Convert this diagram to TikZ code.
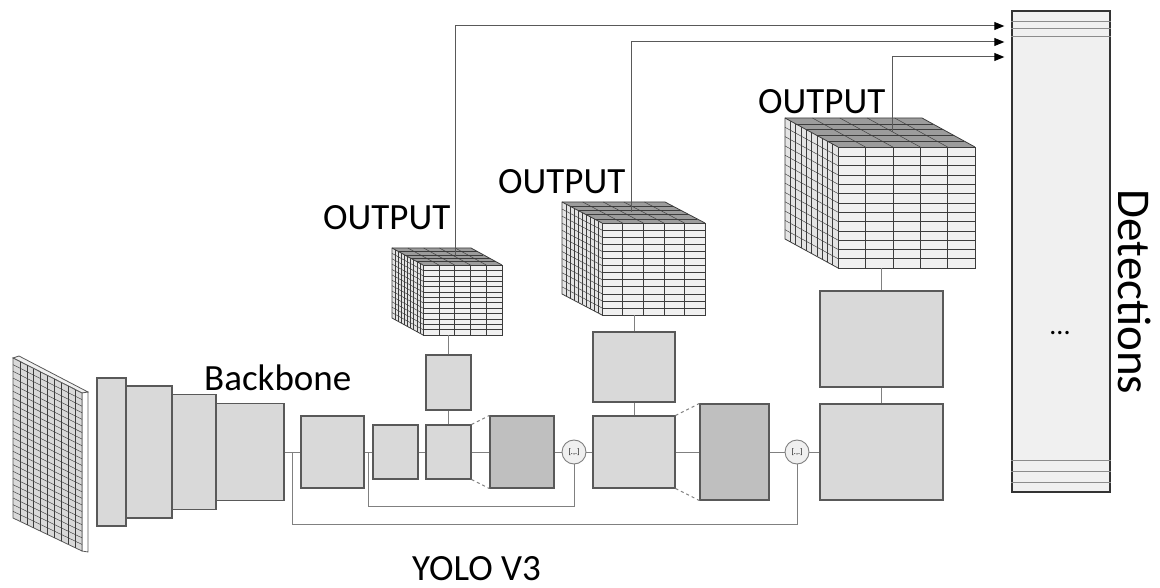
\documentclass[tikz,border=0pt]{standalone}
\usepackage{fontspec}
\setmainfont{Carlito}
\usetikzlibrary{positioning,arrows.meta}

\definecolor{blkfill}{HTML}{D9D9D9}
\definecolor{darkfill}{HTML}{BFBFBF}
\definecolor{edgegray}{HTML}{595959}
\definecolor{wiregray}{HTML}{808080}
\definecolor{paperfill}{HTML}{F0F0F0}
\definecolor{sidefill}{HTML}{E4E4E4}
\definecolor{topfill}{HTML}{9C9C9C}
\definecolor{gridgray}{HTML}{3C3C3C}

% output tensor: front top-left x, y, width, height, depth dx, dy
\newcommand{\featcube}[6]{%
  \fill[sidefill] (#1,#2) -- ++(-#5,-#6) -- ++(0,#4) -- (#1,#2+#4) -- cycle;
  \foreach \k in {1,...,9}
    \draw[gridline] ({#1-\k*#5/10},{#2-\k*#6/10}) -- ++(0,#4);
  \foreach \j in {1,...,12}
    \draw[gridline] (#1,{#2+\j*#4/13}) -- ++(-#5,-#6);
  \fill[topfill] (#1,#2) -- ++(#3,0) -- ++(-#5,-#6) -- ++(-#3,0) -- cycle;
  \foreach \i in {1,...,4}
    \draw[gridline] ({#1+\i*#3/5},#2) -- ++(-#5,-#6);
  \foreach \k in {1,...,4}
    \draw[gridline] ({#1-\k*#5/5},{#2-\k*#6/5}) -- ++(#3,0);
  \fill[paperfill] (#1,#2) rectangle ++(#3,#4);
  \foreach \i in {1,...,4}
    \draw[gridline] ({#1+\i*#3/5},#2) -- ++(0,#4);
  \foreach \j in {1,...,12}
    \draw[gridline] (#1,{#2+\j*#4/13}) -- ++(#3,0);
  \draw[cubeline] (#1,#2) rectangle ++(#3,#4);
  \draw[cubeline] (#1,#2+#4) -- ++(-#5,-#6) -- ++(0,-#4) -- ++(#3,0) -- ++(#5,#6);
  \draw[cubeline] (#1,#2) -- ++(-#5,-#6);
}

\begin{document}
\begin{tikzpicture}[
  x=1pt, y=-1pt,
  layer/.style={draw=edgegray,fill=blkfill,line width=1.1pt,inner sep=0pt},
  upsample/.style={layer,fill=darkfill},
  concat/.style={circle,draw=wiregray,fill=paperfill,line width=0.9pt,minimum size=24pt,inner sep=0pt,font=\fontsize{8}{8}\selectfont},
  wire/.style={draw=wiregray,line width=1pt},
  arr/.style={draw=black!65,line width=1pt,-{Triangle[length=10pt,width=8pt,color=black]},shorten >=7pt},
  gridline/.style={draw=gridgray,line width=0.45pt},
  cubeline/.style={draw=gridgray,line width=0.8pt},
  lbl/.style={font=\fontsize{37}{40}\selectfont,inner sep=0pt}
]
\useasboundingbox (0,0) rectangle (1160,588);

% input image
\filldraw[fill=paperfill,draw=edgegray,line width=0.8pt] (13,358) -- (19,356) -- (88,392) -- (82,393) -- cycle;
\filldraw[fill=white,draw=edgegray,line width=0.8pt] (82,393) -- (88,392) -- (88,552) -- (82,551) -- cycle;
\filldraw[fill=blkfill,draw=edgegray,line width=0.8pt] (13,358) -- (82,393) -- (82,551) -- (13,518) -- cycle;
\foreach \i in {1,...,9}
  \draw[gridline] ({13+\i*6.9},{358+\i*3.5}) -- ({13+\i*6.9},{518+\i*3.3});
\foreach \j in {1,...,23}
  \draw[gridline] (13,{358+\j*160/24}) -- (82,{393+\j*158/24});

% backbone
\node[layer,minimum width=29pt,minimum height=148pt] (bb1) at (111.5,452) {};
\node[layer,minimum width=46pt,minimum height=132pt] (bb2) at (149,452) {};
\node[layer,minimum width=44pt,minimum height=115pt] (bb3) at (194,452) {};
\node[layer,minimum width=68pt,minimum height=97pt] (bb4) at (250,452) {};
\node[lbl,anchor=base west] (bblabel) at (204,390) {Backbone};

% neck and heads
\node[layer,minimum width=63pt,minimum height=72pt] (conv1) at (332.5,452) {};
\node[layer,minimum width=45pt,minimum height=54pt] (conv2) at (395.5,452) {};
\node[layer,minimum width=45pt,minimum height=54pt] (conv3) at (448.5,452) {};
\node[layer,minimum width=45pt,minimum height=55pt] (head1) at (448.5,382.5) {};
\node[upsample,minimum width=64pt,minimum height=72pt] (up1) at (522,452) {};
\node[concat] (cat1) at (574,452) {[.,.]};
\node[layer,minimum width=82pt,minimum height=72pt] (conv4) at (634,452) {};
\node[layer,minimum width=82pt,minimum height=70pt] (head2) at (634,367) {};
\node[upsample,minimum width=69pt,minimum height=96pt] (up2) at (734.5,452) {};
\node[concat] (cat2) at (797,452) {[.,.]};
\node[layer,minimum width=123pt,minimum height=96pt] (conv5) at (881.5,452) {};
\node[layer,minimum width=123pt,minimum height=96pt] (head3) at (881.5,339) {};

% output tensors
\featcube{423}{265}{79}{70}{31}{17}
\featcube{602}{223}{103}{92}{40}{21}
\featcube{838}{147}{137}{121}{53}{29}
\coordinate (cube1b) at (448.5,335);
\coordinate (cube2b) at (634,315);
\coordinate (cube3b) at (881.5,268);
\coordinate (cube1t) at (455,257);
\coordinate (cube2t) at (631,212);
\coordinate (cube3t) at (892,132);
\node[lbl,anchor=base west] (out1) at (323,230) {OUTPUT};
\node[lbl,anchor=base west] (out2) at (498,194) {OUTPUT};
\node[lbl,anchor=base west] (out3) at (758,114) {OUTPUT};

% detections
\node[draw=black!80,fill=paperfill,line width=1.4pt,minimum width=98pt,minimum height=481pt,inner sep=0pt] (det) at (1061,251.5) {};
\foreach \yy in {21,28,36,460,471,482}
  \draw[draw=black!45,line width=0.9pt] (det.west |- 0,\yy) -- (det.east |- 0,\yy);
\node[font=\fontsize{28}{28}\selectfont,inner sep=0pt] (dots) at (1060,333) {...};
\node[rotate=-90,font=\fontsize{47}{50}\selectfont,inner sep=0pt] (detlabel) at (1135,292) {Detections};

% connections
\path (bb4) edge[wire] (conv1);
\path (conv1) edge[wire] (conv2);
\path (conv2) edge[wire] (conv3);
\path (conv3) edge[wire] (up1);
\path (up1) edge[wire] (cat1);
\path (cat1) edge[wire] (conv4);
\path (conv4) edge[wire] (up2);
\path (up2) edge[wire] (cat2);
\path (cat2) edge[wire] (conv5);
\path (conv3) edge[wire] (head1);
\path (conv4) edge[wire] (head2);
\path (conv5) edge[wire] (head3);
\path (head1) edge[wire] (cube1b);
\path (head2) edge[wire] (cube2b);
\path (head3) edge[wire] (cube3b);
\draw[wire,dashed] (conv3.north east) -- (up1.north west);
\draw[wire,dashed] (conv3.south east) -- (up1.south west);
\draw[wire,dashed] (conv4.north east) -- (up2.north west);
\draw[wire,dashed] (conv4.south east) -- (up2.south west);
\coordinate (skip1) at (368,452);
\coordinate (skip2) at (292,452);
\draw[wire] (skip1) -- (368,506) -| (cat1.south);
\draw[wire] (skip2) -- (292,524) -| (cat2.south);
\draw[arr] (cube1t) |- (det.west |- 0,26);
\draw[arr] (cube2t) |- (det.west |- 0,42);
\draw[arr] (cube3t) |- (det.west |- 0,57);

\node[lbl,anchor=base west] (title) at (412,580) {YOLO V3};
\end{tikzpicture}
\end{document}
